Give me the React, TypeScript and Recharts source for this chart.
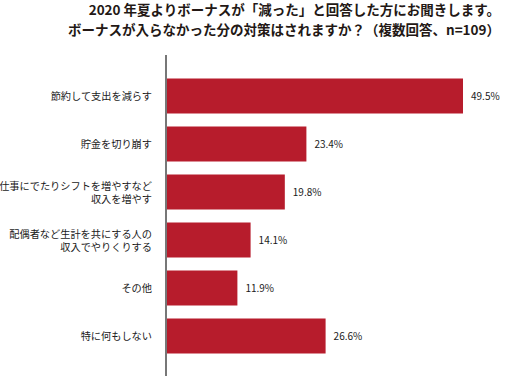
import React from 'react';
import { BarChart, Bar, XAxis, YAxis, LabelList } from 'recharts';

const titleLines = [
  '2020 年夏よりボーナスが「減った」と回答した方にお聞きします。',
  'ボーナスが入らなかった分の対策はされますか？（複数回答、n=109）',
];
const categories = [
  '節約して支出を減らす',
  '貯金を切り崩す',
  '仕事にでたりシフトを増やすなど\n収入を増やす',
  '配偶者など生計を共にする人の\n収入でやりくりする',
  'その他',
  '特に何もしない',
];
const values = [49.5, 23.4, 19.8, 14.1, 11.9, 26.6];

const data = categories.map((c, i) => ({ name: c, value: values[i] }));

const FONT = '"Noto Sans CJK JP", "Noto Sans", sans-serif';
const LINE = 13;

const CategoryTick = (props: any) => {
  const { y, payload } = props;
  const lines = String(payload.value).split('\n');
  const n = lines.length;
  return (
    <g>
      {lines.map((l: string, i: number) => (
        <text
          key={i}
          x={152}
          y={y + (i - (n - 1) / 2) * LINE}
          textAnchor="end"
          dominantBaseline="central"
          fontSize={10.2}
          fill="#1a1a1a"
          fontFamily={FONT}
        >
          {l}
        </text>
      ))}
    </g>
  );
};

export default function App() {
  return (
    <div style={{ position: 'absolute', left: 0, top: 0, width: 505, height: 376, background: '#fff', fontFamily: FONT }}>
      <div
        style={{
          position: 'absolute',
          top: 0,
          right: 5,
          textAlign: 'right',
          fontSize: 13.5,
          fontWeight: 700,
          lineHeight: '19.5px',
          color: '#231815',
          whiteSpace: 'nowrap',
        }}
      >
        {titleLines.map((t, i) => (
          <div key={i}>{t}</div>
        ))}
      </div>
      <BarChart
        width={505}
        height={376}
        layout="vertical"
        data={data}
        margin={{ top: 55, right: 9, bottom: 0, left: 0 }}
      >
        <XAxis type="number" domain={[0, 55]} hide />
        <YAxis
          type="category"
          dataKey="name"
          width={166}
          padding={{ top: 16.5, bottom: 16.5 }}
          axisLine={{ stroke: '#777', strokeWidth: 2 }}
          tickLine={false}
          tick={<CategoryTick />}
          interval={0}
        />
        <Bar dataKey="value" fill="#B71C2C" barSize={35} isAnimationActive={false}>
          <LabelList
            dataKey="value"
            position="right"
            offset={8}
            formatter={(v: any) => `${Number(v).toFixed(1)}%`}
            style={{ fontSize: 10, fill: '#1a1a1a', fontFamily: FONT }}
          />
        </Bar>
      </BarChart>
    </div>
  );
}
